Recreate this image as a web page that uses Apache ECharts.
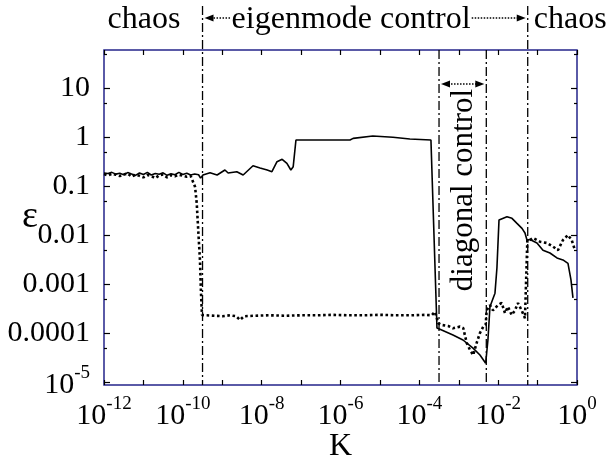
<!DOCTYPE html>
<html><head><meta charset="utf-8">
<script src="https://cdn.jsdelivr.net/npm/echarts@6/dist/echarts.min.js"></script>
<style>html,body{margin:0;padding:0;background:#fff}#c{width:615px;height:458px}</style>
</head><body><div id="c"></div>
<script>
// ---- data ----
const solidK = [1e-12,1.26e-12,1.58e-12,2e-12,2.51e-12,3.16e-12,3.98e-12,5.01e-12,6.31e-12,7.94e-12,1e-11,1.26e-11,1.58e-11,2e-11,2.51e-11,3.16e-11,3.98e-11,5.01e-11,6.31e-11,7.94e-11,1e-10,1.26e-10,1.58e-10,2e-10,2.51e-10,2.82e-10,
3.24e-10,4.9e-10,7.4e-10,1.17e-9,1.41e-9,2.34e-9,3.39e-9,6.03e-9,9.1e-9,1.38e-8,1.82e-8,2.45e-8,3.31e-8,4.37e-8,5.5e-8,6.31e-8,7.41e-8,1.74e-6,2.09e-6,6.6e-6,2.14e-5,5.75e-5,1.97e-4,2.8e-4,3.34e-4,7.13e-4,1.28e-3,2.3e-3,3.45e-3,4.82e-3,5.5e-3,6.19e-3,8.3e-3,9.3e-3,1.05e-2,1.67e-2,2.24e-2,3.0e-2,4.02e-2,4.79e-2,5.38e-2,6.41e-2,9.64e-2,0.137,0.206,0.31,0.44,0.59,0.703,0.79];
const solidEps = [0.185,0.18,0.19,0.175,0.182,0.17,0.188,0.176,0.165,0.185,0.172,0.19,0.168,0.18,0.174,0.186,0.165,0.178,0.17,0.19,0.172,0.182,0.168,0.176,0.17,0.145,
0.168,0.187,0.168,0.212,0.184,0.196,0.168,0.259,0.233,0.212,0.196,0.313,0.351,0.29,0.212,0.248,0.869,0.869,0.94,1.05,0.986,0.91,0.869,1.26e-4,1.19e-4,9.1e-5,7.2e-5,4.9e-5,3.56e-5,2.41e-5,7.2e-5,3.44e-4,6.5e-4,2.12e-3,0.0202,0.0236,0.0219,0.0173,0.0137,0.011,0.0079,0.0081,0.0069,0.0049,0.0043,0.0034,0.0031,0.00264,0.00121,5.2e-4];
const dotK = [1e-12,1.26e-12,1.58e-12,2e-12,2.51e-12,3.16e-12,3.98e-12,5.01e-12,6.31e-12,7.94e-12,1e-11,1.26e-11,1.58e-11,2e-11,2.51e-11,3.16e-11,3.98e-11,5.01e-11,6.31e-11,7.94e-11,1e-10,1.26e-10,1.58e-10,
2.04e-10,2.25e-10,2.43e-10,2.72e-10,2.89e-10,3.06e-10,3.98e-10,6.31e-10,1e-9,1.58e-9,2.24e-9,2.82e-9,3.55e-9,6.31e-9,1.58e-8,3.98e-8,1e-7,2.51e-7,6.31e-7,1.58e-6,3.98e-6,1e-5,2.51e-5,6.31e-5,1.41e-4,1.53e-4,2.06e-4,2.49e-4,3.03e-4,3.69e-4,5.42e-4,7.13e-4,1.07e-3,1.3e-3,1.59e-3,1.93e-3,2.33e-3,2.85e-3,3.45e-3,4.19e-3,4.82e-3,5.1e-3,6.19e-3,7.38e-3,9.89e-3,1.23e-2,1.49e-2,1.77e-2,2.2e-2,2.67e-2,3.18e-2,3.94e-2,4.79e-2,5.28e-2,5.5e-2,6.41e-2,7.64e-2,0.115,0.17,0.245,0.329,0.44,0.59,0.733,0.889];
const dotEps = [0.175,0.165,0.178,0.17,0.16,0.172,0.18,0.155,0.17,0.162,0.15,0.168,0.16,0.145,0.165,0.172,0.15,0.166,0.158,0.17,0.162,0.155,0.16,
0.0968,0.045,0.0148,0.0031,6.6e-4,2.33e-4,2.3e-4,2.25e-4,2.2e-4,2.3e-4,2.2e-4,1.85e-4,2.2e-4,2.25e-4,2.3e-4,2.25e-4,2.3e-4,2.3e-4,2.35e-4,2.3e-4,2.3e-4,2.35e-4,2.3e-4,2.3e-4,2.35e-4,2.52e-4,2.3e-4,2.7e-4,1.58e-4,1.46e-4,1.39e-4,1.25e-4,1.35e-4,1.26e-4,6.3e-5,4.5e-5,3.56e-5,6.3e-5,1.0e-4,1.35e-4,1.46e-4,2.9e-4,3.7e-4,2.9e-4,3.7e-4,4.1e-4,2.56e-4,3.44e-4,2.33e-4,2.9e-4,4.1e-4,2.9e-4,2.0e-4,2.0e-4,0.0079,0.0079,0.0087,0.0073,0.0069,0.0058,0.0049,0.0079,0.01,0.0079,0.0049];
const boundaryK = [3.16e-10, 3.16e-4, 5.0e-3, 5.62e-2];
const xTickValues = [1e-12,1e-11,1e-10,1e-9,1e-8,1e-7,1e-6,1e-5,1e-4,1e-3,1e-2,1e-1,1];
const xLabelValues = [1e-12,1e-10,1e-8,1e-6,1e-4,1e-2,1];
const xTickLabels = ['10^-12','10^-10','10^-8','10^-6','10^-4','10^-2','10^0'];
const yTickValues = [1e-5,1e-4,1e-3,1e-2,1e-1,1,10];
const yTickLabels = ['10^-5','0.0001','0.001','0.01','0.1','1','10'];
const yMinorValues = [5e-5,5e-4,5e-3,5e-2,0.5,5,50];
const regionLabels = ['chaos','eigenmode control','chaos'];
const diagonalLabel = 'diagonal control';
const xName = 'K', yName = 'ε';

// ---- chart ----
const FAM = '"Liberation Serif","Times New Roman",serif';
const FRAME = '#24248a';
const xMin = 1e-12, xMax = 1, yMin = 8.69e-6, yMax = 59.7;
function richLabel(s){ const p = s.split('^'); return p.length === 2 ? '{b|' + p[0] + '}{s|' + p[1] + '}' : '{n|' + s + '}'; }
function fmtFrom(vals, labels){ return function(v){ for (let i = 0; i < vals.length; i++) { if (Math.abs(Math.log10(v) - Math.log10(vals[i])) < 1e-6) return richLabel(labels[i]); } return ''; }; }
const rich = {
  n: {fontFamily: FAM, fontSize: 30, color: '#000'},
  b: {fontFamily: FAM, fontSize: 30, color: '#000', lineHeight: 36, verticalAlign: 'bottom'},
  s: {fontFamily: FAM, fontSize: 19, color: '#000', lineHeight: 19, verticalAlign: 'top'}
};
const chart = echarts.init(document.getElementById('c'));
const tickStyle = {color: '#000', width: 1.2};
chart.setOption({
  animation: false,
  backgroundColor: '#fff',
  textStyle: {fontFamily: FAM},
  grid: {left: 104, right: 38, top: 50, bottom: 73, show: true, borderColor: FRAME, borderWidth: 1.5, backgroundColor: 'transparent', containLabel: false, outerBoundsMode: 'none'},
  xAxis: [
    {type: 'log', logBase: 10, min: xMin, max: xMax, position: 'bottom',
     name: xName, nameLocation: 'middle', nameGap: 46, nameMoveOverlap: false, nameTextStyle: {fontFamily: FAM, fontSize: 32, color: '#000'},
     axisLine: {show: false}, splitLine: {show: false},
     axisTick: {show: true, inside: true, length: 5, lineStyle: tickStyle, customValues: xTickValues},
     axisLabel: {show: true, margin: 10, customValues: xLabelValues, formatter: fmtFrom(xLabelValues, xTickLabels), rich: rich}},
    {type: 'log', logBase: 10, min: xMin, max: xMax, position: 'top',
     axisLine: {show: false}, splitLine: {show: false}, axisLabel: {show: false},
     axisTick: {show: true, inside: true, length: 5, lineStyle: tickStyle, customValues: xTickValues}}
  ],
  yAxis: [
    {type: 'log', logBase: 10, min: yMin, max: yMax, position: 'left',
     name: yName, nameLocation: 'middle', nameRotate: 0, nameGap: 66, nameMoveOverlap: false, nameTextStyle: {fontFamily: FAM, fontSize: 38, color: '#000'},
     axisLine: {show: false}, splitLine: {show: false},
     axisTick: {show: true, inside: true, length: 6, lineStyle: tickStyle, customValues: yTickValues},
     axisLabel: {show: true, margin: 14, customValues: yTickValues, formatter: fmtFrom(yTickValues, yTickLabels), rich: rich}},
    {type: 'log', logBase: 10, min: yMin, max: yMax, position: 'right',
     axisLine: {show: false}, splitLine: {show: false}, axisLabel: {show: false},
     axisTick: {show: true, inside: true, length: 6, lineStyle: tickStyle, customValues: yTickValues}},
    {type: 'log', logBase: 10, min: yMin, max: yMax, position: 'left',
     axisLine: {show: false}, splitLine: {show: false}, axisLabel: {show: false},
     axisTick: {show: true, inside: true, length: 3, lineStyle: tickStyle, customValues: yMinorValues}},
    {type: 'log', logBase: 10, min: yMin, max: yMax, position: 'right',
     axisLine: {show: false}, splitLine: {show: false}, axisLabel: {show: false},
     axisTick: {show: true, inside: true, length: 3, lineStyle: tickStyle, customValues: yMinorValues}}
  ],
  series: [
    {name: 'solid', type: 'line', xAxisIndex: 0, yAxisIndex: 0, showSymbol: false, symbol: 'none',
     data: solidK.map((k, i) => [k, solidEps[i]]),
     lineStyle: {color: '#000', width: 1.6}},
    {name: 'dotted', type: 'line', xAxisIndex: 0, yAxisIndex: 0, showSymbol: false, symbol: 'none',
     data: dotK.map((k, i) => [k, dotEps[i]]),
     lineStyle: {color: '#000', width: 2.6, type: [2.6, 2.6], cap: 'butt'}}
  ]
});

// ---- annotations positioned through the axes ----
const px = k => chart.convertToPixel({xAxisIndex: 0}, k);
const yTop = chart.convertToPixel({yAxisIndex: 0}, yMax);
const yBot = chart.convertToPixel({yAxisIndex: 0}, yMin);
const L = boundaryK.map(px);
const dash = [9, 3, 2, 3];
const g = [];
function vline(x, y1, y2){ g.push({type: 'line', shape: {x1: x, y1: y1, x2: x, y2: y2}, style: {stroke: '#000', lineWidth: 1.3, lineDash: dash}, z: 10}); }
vline(L[0], 6, yBot); vline(L[1], yTop, yBot); vline(L[2], yTop, yBot); vline(L[3], 6, yBot);
function head(xTip, y, dir){
  g.push({type: 'polygon', shape: {points: [[xTip, y], [xTip - dir * 9, y - 3.5], [xTip - dir * 9, y + 3.5]]}, style: {fill: '#000'}, z: 11});
}
function shaft(x1, x2, y){ g.push({type: 'line', shape: {x1: x1, y1: y, x2: x2, y2: y}, style: {stroke: '#000', lineWidth: 1.5, lineDash: [1.5, 1.5]}, z: 11}); }
const hy = 18;
shaft(L[0] + 8, L[0] + 28, hy); head(L[0] + 2, hy, -1);
shaft(L[3] - 56, L[3] - 8, hy); head(L[3] - 2, hy, 1);
const dy = 84;
shaft(L[1] + 9, L[2] - 9, dy); head(L[1] + 2, dy, -1); head(L[2] - 2, dy, 1);
function txt(x, y, s, align, size, rot){
  g.push({type: 'text', x: x, y: y, rotation: rot || 0, style: {text: s, x: 0, y: 0, fill: '#000', font: size + 'px ' + FAM, align: align, verticalAlign: 'middle'}, z: 12});
}
txt(144, 20, regionLabels[0], 'center', 32);
txt((L[0] + 28 + L[3] - 56) / 2, 20, regionLabels[1], 'center', 32);
txt(L[3] + 6, 20, regionLabels[2], 'left', 32);
txt((L[1] + L[2]) / 2 + 1, 190, diagonalLabel, 'center', 31, Math.PI / 2);
chart.setOption({graphic: g});
</script>
</body></html>
